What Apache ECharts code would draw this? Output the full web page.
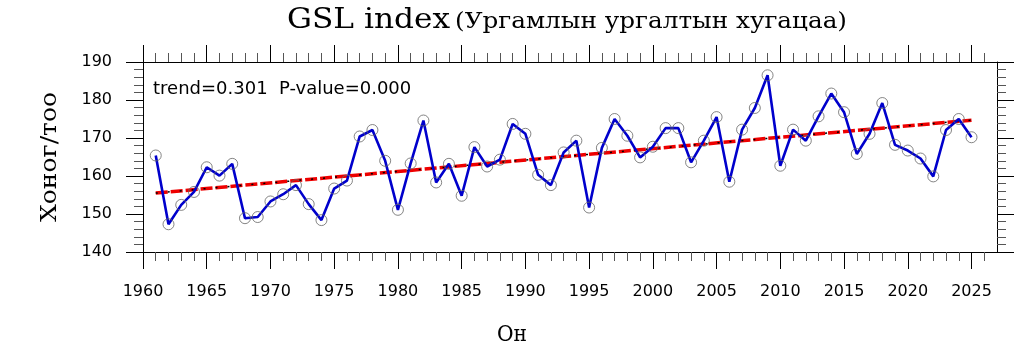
<!DOCTYPE html>
<html>
<head>
<meta charset="utf-8">
<script src="https://cdn.jsdelivr.net/npm/echarts@6.0.0/dist/echarts.min.js"></script>
<style>
html,body{margin:0;padding:0;background:#fff;}
#chart{width:1024px;height:348px;}
</style>
</head>
<body>
<div id="chart"></div>
<script>
const years = [1961,1962,1963,1964,1965,1966,1967,1968,1969,1970,
  1971,1972,1973,1974,1975,1976,1977,1978,1979,1980,
  1981,1982,1983,1984,1985,1986,1987,1988,1989,1990,
  1991,1992,1993,1994,1995,1996,1997,1998,1999,2000,
  2001,2002,2003,2004,2005,2006,2007,2008,2009,2010,
  2011,2012,2013,2014,2015,2016,2017,2018,2019,2020,
  2021,2022,2023,2024,2025];
const gsl = [165.4,147.3,152.4,155.8,162.3,160.1,163.2,148.9,149.2,153.3,
  155.2,157.6,152.6,148.4,156.7,158.8,170.4,172.1,164.0,151.1,
  163.3,174.6,158.3,163.2,154.8,167.6,162.5,164.3,173.7,171.1,
  160.3,157.6,166.2,169.3,151.7,167.4,175.0,170.6,164.9,167.7,
  172.6,172.6,163.6,169.3,175.5,158.5,172.2,177.9,186.5,162.7,
  172.2,169.3,175.7,181.7,176.8,165.8,171.1,179.2,168.2,166.7,
  164.6,159.9,172.1,175.0,170.2];
const trendYears = [1961, 2025];
const trendValues = [155.5, 174.7];
const xMajorTicks = [1960,1965,1970,1975,1980,1985,1990,1995,2000,2005,2010,2015,2020,2025];
const yTicks = [140,150,160,170,180,190];
const titleMain = 'GSL index';
const titleSub = '(Ургамлын ургалтын хугацаа)';
const statText = 'trend=0.301  P-value=0.000';
const xName = 'Он';
const yName = 'Хоног/тоо';

const xMinorTicks = [];
for (let y = 1960; y <= 2026; y++) { if (xMajorTicks.indexOf(y) < 0) xMinorTicks.push(y); }

const X0 = 1960, X1 = 2027;
const serifFont = '"DejaVu Serif", "Liberation Serif", serif';
const sansFont = '"DejaVu Sans", sans-serif';

const mctx = document.createElement('canvas').getContext('2d');
function measure(text, font) { mctx.font = font; return mctx.measureText(text).width; }
function fitText(text, size, targetW, x, y, align, rotation) {
  const font = size + 'px ' + serifFont;
  const w = measure(text, font);
  const s = targetW / w;
  return { type: 'text', x: x, y: y, rotation: rotation || 0, scaleX: s, scaleY: 1,
    style: { text: text, fill: '#000', font: font, align: align, verticalAlign: 'middle' } };
}

function xAx(pos, major, withLabel) {
  return {
    type: 'value', position: pos, min: X0, max: X1, gridIndex: 0,
    axisLine: { show: major, onZero: false, lineStyle: { color: '#000', width: 1 } },
    axisTick: { show: true, inside: false, length: major ? 17 : 9,
      customValues: major ? xMajorTicks : xMinorTicks,
      lineStyle: { color: major ? '#000' : '#555', width: 1 } },
    axisLabel: withLabel ? { show: true, customValues: xMajorTicks, margin: 32,
      fontSize: 16, fontFamily: sansFont, color: '#000', formatter: v => String(v) } : { show: false },
    splitLine: { show: false }
  };
}
function yAx(pos, withLabel) {
  return {
    type: 'value', position: pos, min: yTicks[0], max: yTicks[yTicks.length - 1], interval: 10,
    axisLine: { show: true, onZero: false, lineStyle: { color: '#000', width: 1 } },
    axisTick: { show: true, inside: false, length: 17, lineStyle: { color: '#000', width: 1 } },
    minorTick: { show: true, splitNumber: 5, length: 9, lineStyle: { color: '#555', width: 1 } },
    axisLabel: withLabel ? { show: true, margin: 31, fontSize: 16, fontFamily: sansFont, color: '#000' } : { show: false },
    splitLine: { show: false }
  };
}

const chart = echarts.init(document.getElementById('chart'), null, { renderer: 'canvas' });
const trendData = trendYears.map((y, i) => [y, trendValues[i]]);
chart.setOption({
  animation: false,
  backgroundColor: '#fff',
  grid: { left: 143, top: 62, width: 854, height: 190, containLabel: false },
  xAxis: [xAx('bottom', true, true), xAx('bottom', false, false), xAx('top', true, false), xAx('top', false, false)],
  yAxis: [yAx('left', true), yAx('right', false)],
  graphic: [
    fitText(titleMain, 27, 163, 287, 20.5, 'left'),
    fitText(titleSub, 22, 392, 455, 22, 'left'),
    fitText(xName, 22, 30, 512, 335, 'center'),
    fitText(yName, 22, 130, 50, 157, 'center', Math.PI / 2),
    { type: 'text', x: 153, y: 89, z: 10, style: { text: statText, fill: '#000', font: '18px ' + sansFont, align: 'left', verticalAlign: 'middle' } }
  ],
  series: [
    { type: 'line', xAxisIndex: 0, yAxisIndex: 0, data: trendData, symbol: 'none', z: 3,
      lineStyle: { color: '#ee0000', width: 3.5, type: [12, 3] } },
    { type: 'line', xAxisIndex: 0, yAxisIndex: 0, data: trendData, symbol: 'none', z: 4,
      lineStyle: { color: '#000', width: 1.5, type: [2, 10] } },
    { type: 'line', xAxisIndex: 0, yAxisIndex: 0, data: years.map((y, i) => [y, gsl[i]]), z: 5,
      symbol: 'circle', symbolSize: 11,
      lineStyle: { color: '#0000cc', width: 2.6 },
      itemStyle: { color: 'rgba(0,0,0,0)', borderColor: '#666', borderWidth: 0.8 } }
  ]
});
</script>
</body>
</html>
